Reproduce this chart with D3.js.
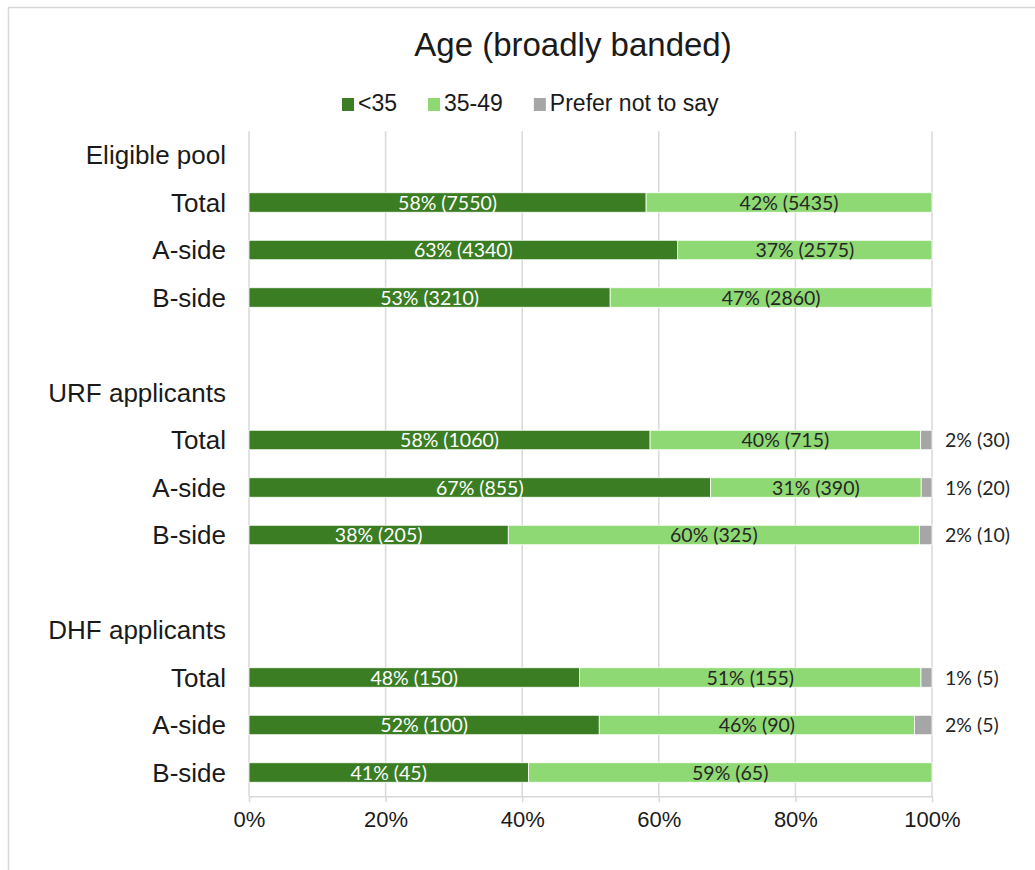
<!DOCTYPE html>
<html>
<head>
<meta charset="utf-8">
<script src="https://cdn.jsdelivr.net/npm/d3@7"></script>
<style>
  html, body { margin: 0; padding: 0; background: #fff; }
  svg { display: block; }
</style>
</head>
<body>
<svg id="chart" width="1035" height="870"></svg>
<script>
// Age bands by group and side
const groups = ["Eligible pool", "URF applicants", "DHF applicants"];
const sides = ["Total", "A-side", "B-side"];
const seriesNames = ["<35", "35-49", "Prefer not to say"];

// counts per row (group order, then Total / A-side / B-side)
const under35 = [7550, 4340, 3210, 1060, 855, 205, 150, 100, 45];
const age35to49 = [5435, 2575, 2860, 715, 390, 325, 155, 90, 65];
const preferNot = [0, 0, 0, 30, 20, 10, 5, 5, 0];

// percentages printed on the labels
const under35Pct = [58, 63, 53, 58, 67, 38, 48, 52, 41];
const age35to49Pct = [42, 37, 47, 40, 31, 60, 51, 46, 59];
const preferNotPct = [null, null, null, 2, 1, 2, 1, 2, null];

const xTicks = [0, 0.2, 0.4, 0.6, 0.8, 1];

const colors = ["#3A7D22", "#8ED973", "#A6A6A6"];

const svg = d3.select("#chart");

// outer chart border
svg.append("rect")
  .attr("x", 8.5).attr("y", 7.5)
  .attr("width", 1100).attr("height", 1000)
  .attr("fill", "none").attr("stroke", "#d9d9d9").attr("stroke-width", 1.5);

// row layout: a header row per group, three data rows, and a spacer between groups
const rows = [];
groups.forEach((g, gi) => {
  rows.push({ key: "h" + gi, label: g, type: "header" });
  sides.forEach((s, si) => {
    const i = gi * 3 + si;
    rows.push({ key: "r" + i, label: s, type: "data", i });
  });
  if (gi < groups.length - 1) rows.push({ key: "gap" + gi, label: "", type: "gap" });
});

const plot = { left: 249, right: 932, top: 131.25, bottom: 796.25 };

const y = d3.scaleBand()
  .domain(rows.map(r => r.key))
  .range([plot.top, plot.bottom])
  .paddingInner(0.59)
  .paddingOuter(0.295);

const x = d3.scaleLinear().domain([0, 1]).range([plot.left, plot.right]);

// vertical gridlines
svg.append("g")
  .selectAll("line")
  .data(xTicks)
  .join("line")
  .attr("x1", d => x(d)).attr("x2", d => x(d))
  .attr("y1", plot.top).attr("y2", plot.bottom)
  .attr("stroke", "#d9d9d9").attr("stroke-width", 1.5);

// x axis
const xAxis = d3.axisBottom(x)
  .tickValues(xTicks)
  .tickFormat(d3.format(".0%"))
  .tickSizeInner(6)
  .tickSizeOuter(0)
  .tickPadding(9);

const axisG = svg.append("g")
  .attr("transform", `translate(0,${plot.bottom})`)
  .call(xAxis);
axisG.select(".domain").attr("stroke", "#d9d9d9").attr("stroke-width", 1.5);
axisG.selectAll(".tick line").attr("stroke", "#d9d9d9").attr("stroke-width", 1.5);
axisG.selectAll(".tick text")
  .attr("font-family", "Liberation Sans, Arial, sans-serif")
  .attr("font-size", 22)
  .attr("fill", "#1a1a1a");

// category labels
svg.append("g")
  .selectAll("text")
  .data(rows.filter(r => r.type !== "gap"))
  .join("text")
  .attr("x", 226)
  .attr("y", r => y(r.key) + y.bandwidth() / 2 + 9)
  .attr("text-anchor", "end")
  .attr("font-family", "Liberation Sans, Arial, sans-serif")
  .attr("font-size", 26)
  .attr("fill", "#1a1a1a")
  .text(r => r.label);

// stacked segments
const dataRows = rows.filter(r => r.type === "data");
const segs = [];
dataRows.forEach(r => {
  const vals = [under35[r.i], age35to49[r.i], preferNot[r.i]];
  const pcts = [under35Pct[r.i], age35to49Pct[r.i], preferNotPct[r.i]];
  const total = d3.sum(vals);
  let acc = 0;
  vals.forEach((v, k) => {
    segs.push({ row: r, k, v, pct: pcts[k], x0: acc / total, x1: (acc + v) / total });
    acc += v;
  });
});

const barG = svg.append("g");
barG.selectAll("rect")
  .data(segs.filter(s => s.v > 0))
  .join("rect")
  .attr("x", s => x(s.x0))
  .attr("width", s => x(s.x1) - x(s.x0))
  .attr("y", s => y(s.row.key))
  .attr("height", y.bandwidth())
  .attr("fill", s => colors[s.k])
  .attr("stroke", "#ffffff")
  .attr("stroke-width", 0.8);

// segment labels: inside for the age bands, to the right for "prefer not to say"
const labelFont = "Lato, 'Open Sans', sans-serif";
barG.selectAll("text")
  .data(segs.filter(s => s.v > 0))
  .join("text")
  .attr("x", s => s.k === 2 ? x(1) + 13 : (x(s.x0) + x(s.x1)) / 2)
  .attr("y", s => y(s.row.key) + y.bandwidth() / 2 + 7)
  .attr("text-anchor", s => s.k === 2 ? "start" : "middle")
  .attr("font-family", labelFont)
  .attr("font-size", 19.5)
  .attr("fill", s => s.k === 0 ? "#ffffff" : "#262626")
  .text(s => `${s.pct}% (${s.v})`);

// title
svg.append("text")
  .attr("x", 573).attr("y", 56)
  .attr("text-anchor", "middle")
  .attr("font-family", "Liberation Sans, Arial, sans-serif")
  .attr("font-size", 33)
  .attr("fill", "#1a1a1a")
  .text("Age (broadly banded)");

// legend
const legend = svg.append("g").attr("transform", "translate(342,0)");
let lx = 0;
seriesNames.forEach((name, k) => {
  const item = legend.append("g").attr("transform", `translate(${lx},0)`);
  item.append("rect")
    .attr("x", 0).attr("y", 98).attr("width", 12).attr("height", 13)
    .attr("fill", colors[k]);
  const t = item.append("text")
    .attr("x", 16).attr("y", 111)
    .attr("font-family", "Liberation Sans, Arial, sans-serif")
    .attr("font-size", 23)
    .attr("fill", "#1a1a1a")
    .text(name);
  lx += 16 + t.node().getComputedTextLength() + 31;
});
</script>
</body>
</html>
